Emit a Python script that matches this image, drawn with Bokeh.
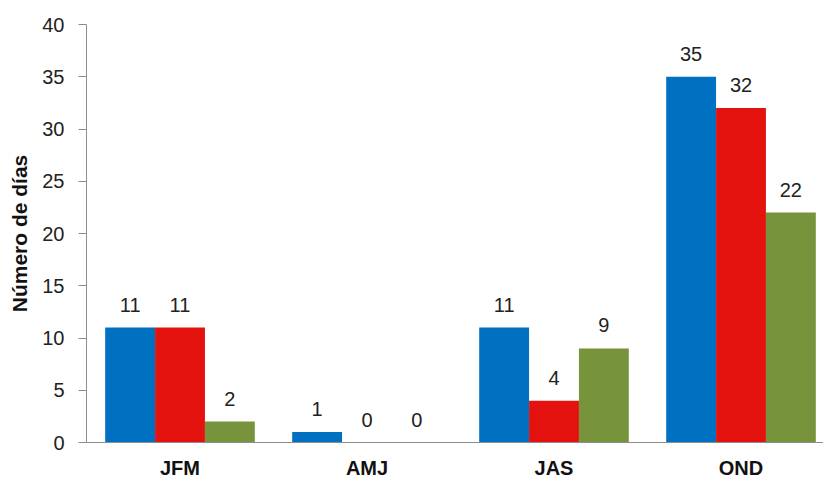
from bokeh.plotting import figure
from bokeh.models import ColumnDataSource, FixedTicker, Range1d, LabelSet
from bokeh.core.properties import value
from bokeh.embed import file_html
from bokeh.resources import INLINE

categories = ["JFM", "AMJ", "JAS", "OND"]
serie_azul = [11, 1, 11, 35]
serie_roja = [11, 0, 4, 32]
serie_verde = [2, 0, 9, 22]
y_ticks = [0, 5, 10, 15, 20, 25, 30, 35, 40]

colors = ["#0070C0", "#E3120F", "#77933C"]
series = [serie_azul, serie_roja, serie_verde]
bar_w = 0.8 / 3
offsets = [-bar_w, 0.0, bar_w]

p = figure(width=823, height=481, output_backend="svg", toolbar_location=None,
           x_range=Range1d(0, 737 / 187.0), y_range=Range1d(0, 40),
           min_border_left=86, min_border_right=0, min_border_top=24, min_border_bottom=38)
p.outline_line_color = None
p.xgrid.grid_line_color = None
p.ygrid.grid_line_color = None
p.background_fill_color = "white"

centers = [i + 0.5 for i in range(len(categories))]
for vals, col, off in zip(series, colors, offsets):
    xs = [c + off for c in centers]
    src = ColumnDataSource(dict(x=xs, top=vals, lab=[str(v) for v in vals]))
    p.vbar(x="x", top="top", bottom=0, width=bar_w, source=src,
           fill_color=col, line_color=None)
    p.add_layout(LabelSet(x="x", y="top", text="lab", source=src,
                          text_align="center", text_baseline="alphabetic", y_offset=16,
                          text_font=value("Liberation Sans"), text_font_size="20px",
                          text_color="#222222"))

p.xaxis.ticker = FixedTicker(ticks=centers)
p.xaxis.major_label_overrides = {c: cat for c, cat in zip(centers, categories)}
p.xaxis.major_tick_line_color = None
p.xaxis.minor_tick_line_color = None
p.xaxis.major_tick_out = 0
p.xaxis.major_tick_in = 0
p.xaxis.axis_line_color = "#8C8C8C"
p.xaxis.major_label_text_font = "Liberation Sans"
p.xaxis.major_label_text_font_style = "bold"
p.xaxis.major_label_text_font_size = "20px"
p.xaxis.major_label_text_color = "#111111"
p.xaxis.major_label_standoff = 14

p.yaxis.ticker = FixedTicker(ticks=y_ticks)
p.yaxis.minor_tick_line_color = None
p.yaxis.major_tick_in = 0
p.yaxis.major_tick_out = 8
p.yaxis.major_tick_line_color = "#8C8C8C"
p.yaxis.axis_line_color = "#8C8C8C"
p.yaxis.major_label_text_font = "Liberation Sans"
p.yaxis.major_label_text_font_size = "20px"
p.yaxis.major_label_text_color = "#222222"
p.yaxis.major_label_standoff = 14
p.yaxis.axis_label = "Número de días"
p.yaxis.axis_label_text_font = "Liberation Sans"
p.yaxis.axis_label_text_font_style = "bold"
p.yaxis.axis_label_text_font_size = "21px"
p.yaxis.axis_label_text_color = "#111111"
p.yaxis.axis_label_standoff = 8

open("out.html", "w").write(file_html(p, INLINE))
